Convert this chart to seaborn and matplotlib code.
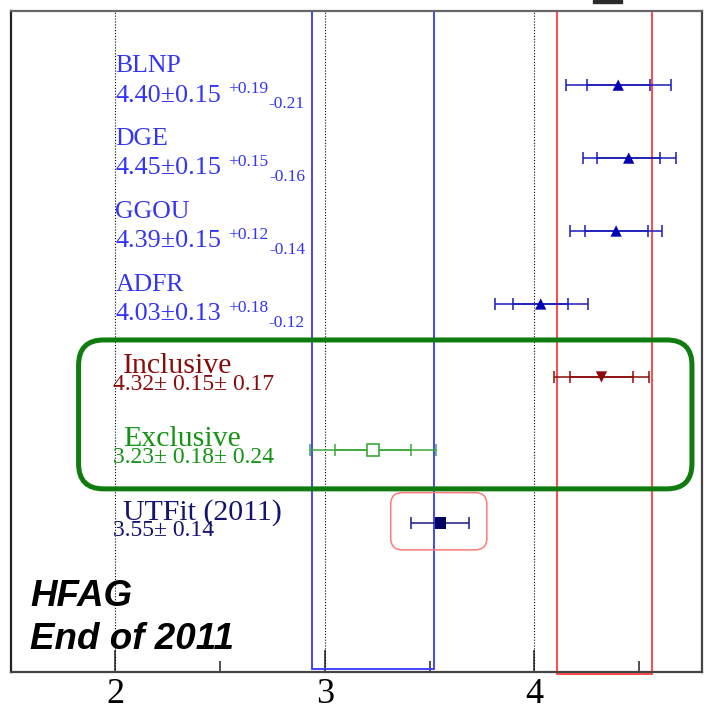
import numpy as np
import pandas as pd
import matplotlib
matplotlib.use("Agg")
import matplotlib.pyplot as plt
import matplotlib.transforms as mtransforms
from matplotlib.patches import FancyBboxPatch, Rectangle
from matplotlib.ticker import FixedLocator
import seaborn as sns

# |Vub| x 10^3 : inclusive theory frameworks
theory_names = ["BLNP", "DGE", "GGOU", "ADFR"]
theory_central = [4.40, 4.45, 4.39, 4.03]
theory_stat = [0.15, 0.15, 0.15, 0.13]
theory_th_up = [0.19, 0.15, 0.12, 0.18]
theory_th_dn = [0.21, 0.16, 0.14, 0.12]
theory_tot_up = [0.25, 0.225, 0.22, 0.225]
theory_tot_dn = [0.25, 0.22, 0.22, 0.22]

# averages and global fit
incl_name = "Inclusive"
incl_central, incl_stat, incl_syst = 4.32, 0.15, 0.17
excl_name = "Exclusive"
excl_central, excl_stat, excl_syst = 3.23, 0.18, 0.24
utfit_name = "UTFit (2011)"
utfit_central, utfit_err = 3.55, 0.14

# vertical bands
excl_band = [2.94, 3.52]
incl_band = [4.11, 4.56]

x_ticks = [2, 3, 4]
x_tick_labels = ["2", "3", "4"]
x_minor = [2.5, 3.5, 4.5]

sns.set_theme(style="white")
plt.rcParams["font.family"] = ["Liberation Serif", "DejaVu Serif"]
plt.rcParams["text.color"] = "black"
plt.rcParams["xtick.color"] = "black"

SERIF = ["Liberation Serif", "DejaVu Serif"]
SANS = ["Liberation Sans", "DejaVu Sans"]

C_TH_TXT = "#3434f4"
C_TH_MK = "#0000b4"
C_TH_BAR = "#1a1ab8"
C_INC = "#8b0a0a"
C_EXC_TXT = "#149414"
C_EXC = "#3aa83a"
C_UT_TXT = "#14146e"
C_UT = "#000060"

fig = plt.figure(figsize=(7.12, 7.14), dpi=100)
ax = fig.add_axes([0.01503, 0.05924, 0.97093, 0.92577])
xlim = (1.5, 4.8)
ylim = (-1.04, 8.02)
ax.set_xlim(*xlim)
ax.set_ylim(*ylim)

# row layout, top to bottom
n_th = len(theory_names)
rows_th = np.arange(7, 7 - n_th, -1)
row_inc, row_exc, row_ut = 3, 2, 1

# pixel aspect, used for circular corners on rounded boxes
ax_w_px = 0.97093 * 712
ax_h_px = 0.92577 * 714
px_x = ax_w_px / (xlim[1] - xlim[0])
px_y = ax_h_px / (ylim[1] - ylim[0])
aspect = px_x / px_y

# dotted reference lines
for xv in x_ticks:
    ax.axvline(xv, color="black", ls=(0, (1, 1.6)), lw=0.8, zorder=1)

# vertical bands
blend = mtransforms.blended_transform_factory(ax.transData, ax.transAxes)
ax.add_patch(Rectangle((excl_band[0], 0.004), excl_band[1] - excl_band[0], 0.996,
                       transform=blend, fill=False, ec="#3535ff", lw=1.3, zorder=2))
ax.add_patch(Rectangle((incl_band[0], -0.003), incl_band[1] - incl_band[0], 1.003,
                       transform=blend, fill=False, ec="#ff3b3b", lw=1.3, zorder=2,
                       clip_on=False))

# error bars: theory frameworks
ebk = dict(fmt="none", elinewidth=1.1, capsize=4.3, capthick=1.1, zorder=3)
ax.errorbar(theory_central, rows_th, xerr=[theory_tot_dn, theory_tot_up],
            ecolor=C_TH_BAR, **ebk)
ax.errorbar(theory_central, rows_th, xerr=theory_stat, ecolor=C_TH_BAR, **ebk)

# inclusive / exclusive averages
incl_tot = np.hypot(incl_stat, incl_syst)
excl_tot = np.hypot(excl_stat, excl_syst)
ax.errorbar([incl_central], [row_inc], xerr=incl_tot, ecolor=C_INC, **ebk)
ax.errorbar([incl_central], [row_inc], xerr=incl_stat, ecolor=C_INC, **ebk)
ax.errorbar([excl_central], [row_exc], xerr=excl_tot, ecolor=C_EXC, **ebk)
ax.errorbar([excl_central], [row_exc], xerr=excl_stat, ecolor=C_EXC, **ebk)
ax.errorbar([utfit_central], [row_ut], xerr=utfit_err, ecolor="#1a1a80", **ebk)

# filled markers
marks = pd.DataFrame({
    "value": theory_central + [incl_central, utfit_central],
    "row": list(rows_th) + [row_inc, row_ut],
    "kind": ["theory"] * n_th + ["incl", "utfit"],
})
sns.scatterplot(data=marks, x="value", y="row", hue="kind", style="kind",
                markers={"theory": "^", "incl": "v", "utfit": "s"},
                palette={"theory": C_TH_MK, "incl": C_INC, "utfit": C_UT},
                s=66, linewidth=0, legend=False, ax=ax, zorder=5)
# open marker for the exclusive average
ax.plot([excl_central], [row_exc], marker="s", ms=9, mfc="white", mec=C_EXC,
        mew=1.2, ls="none", zorder=5)

# rounded frames
ax.add_patch(FancyBboxPatch((1.824, 1.466), 4.752 - 1.824, 3.507 - 1.466,
                            boxstyle="round,pad=0,rounding_size=0.12",
                            mutation_aspect=aspect, fill=False, ec="#107c10",
                            lw=3.6, zorder=4, clip_on=False))
ax.add_patch(FancyBboxPatch((3.314, 0.63), 3.773 - 3.314, 1.415 - 0.63,
                            boxstyle="round,pad=0,rounding_size=0.057",
                            mutation_aspect=aspect, fill=False, ec="#ff7a7a",
                            lw=1.1, zorder=4))

# theory labels with asymmetric errors
for name, c, st, up, dn, r in zip(theory_names, theory_central, theory_stat,
                                  theory_th_up, theory_th_dn, rows_th):
    ax.text(2.0, r + 0.175, name, color=C_TH_TXT, fontsize=18.5,
            family=SERIF, va="baseline", ha="left", zorder=6)
    base = ax.text(2.0, r - 0.225, f"{c:.2f}\u00b1{st:.2f}", color=C_TH_TXT,
                   fontsize=18.8, family=SERIF, va="baseline", ha="left", zorder=6)
    sup = ax.annotate(f"+{up:.2f}", xy=(1, r - 0.225), xycoords=(base, "data"),
                      xytext=(5, 6), textcoords="offset points", color=C_TH_TXT,
                      fontsize=12.5, family=SERIF, va="baseline", ha="left")
    ax.annotate(f"-{dn:.2f}", xy=(1, r - 0.225), xycoords=(sup, "data"),
                xytext=(0.3, -5), textcoords="offset points", color=C_TH_TXT,
                fontsize=12.5, family=SERIF, va="baseline", ha="left")

# labels for averages
for name, val, r, col in [
    (incl_name, f"{incl_central:.2f}\u00b1 {incl_stat:.2f}\u00b1 {incl_syst:.2f}", row_inc, C_INC),
    (excl_name, f"{excl_central:.2f}\u00b1 {excl_stat:.2f}\u00b1 {excl_syst:.2f}", row_exc, C_EXC_TXT),
    (utfit_name, f"{utfit_central:.2f}\u00b1 {utfit_err:.2f}", row_ut, C_UT_TXT),
]:
    ax.text(2.035, r + 0.05, name, color=col, fontsize=21.5, family=SERIF,
            va="baseline", ha="left", zorder=6)
    ax.text(1.99, r - 0.185, val, color=col, fontsize=17, family=SERIF,
            va="baseline", ha="left", zorder=6)

# group tag
ax.text(0.028, 0.0998, "HFAG", transform=ax.transAxes, fontsize=26.5,
        family=SANS, weight="bold", style="italic", va="baseline", ha="left",
        color="black")
ax.text(0.028, 0.034, "End of 2011", transform=ax.transAxes, fontsize=26.5,
        family=SANS, weight="bold", style="italic", va="baseline", ha="left",
        color="black")

# axes styling
ax.set_yticks([])
ax.set_xticks(x_ticks, x_tick_labels)
ax.xaxis.set_minor_locator(FixedLocator(x_minor))
ax.tick_params(axis="x", which="major", direction="in", length=16, width=1.2,
               pad=4.5, color="#333333", labelcolor="black", labelsize=26,
               bottom=True, top=False)
ax.tick_params(axis="x", which="minor", direction="in", length=8, width=1.2,
               color="#333333", bottom=True, top=False)
for lab in ax.get_xticklabels():
    lab.set_family(SERIF)
ax.set_xlabel("")
ax.set_ylabel("")
for side, col in [("left", "#222222"), ("bottom", "#444444"),
                  ("right", "#444444"), ("top", "#666666")]:
    ax.spines[side].set_visible(True)
    ax.spines[side].set_color(col)
    ax.spines[side].set_linewidth(1.6)

# clipped title fragment at the top edge
fig.patches.append(Rectangle((593 / 712, 1 - 3 / 714), 29 / 712, 3 / 714,
                             transform=fig.transFigure, color="#2a2a2a"))

fig.savefig("out.png", dpi=100, facecolor="white")
